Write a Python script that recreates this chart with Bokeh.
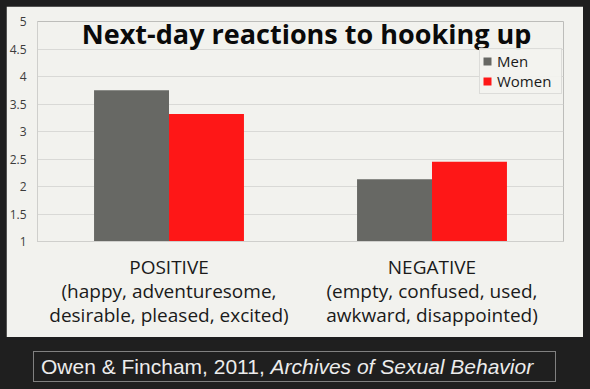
import html
from bokeh.plotting import figure
from bokeh.models import (ColumnDataSource, FactorRange, Range1d, Label, FixedTicker,
                          NumeralTickFormatter, Div)
from bokeh.transform import dodge
from bokeh.layouts import column
from bokeh.embed import file_html
from bokeh.resources import INLINE

# ---- data ----
categories = ["POSITIVE", "NEGATIVE"]
category_details = ["(happy, adventuresome,\ndesirable, pleased, excited)",
                    "(empty, confused, used,\nawkward, disappointed)"]
series = ["Men", "Women"]
men = [3.75, 2.13]
women = [3.32, 2.45]
y_ticks = [1, 1.5, 2, 2.5, 3, 3.5, 4, 4.5, 5]
title_text = "Next-day reactions to hooking up"
citation_plain = "Owen & Fincham, 2011, "
citation_italic = "Archives of Sexual Behavior"

# axis factors: category name plus its description (multi-line)
factors = [c + "\n" + d for c, d in zip(categories, category_details)]

# ---- styles ----
FONT = "Open Sans"
PANEL = "#f2f2ee"
DARK = "#1f1f1f"
MEN_C = "#676864"
WOMEN_C = "#fe1717"
GRID = "#d9d9d6"

src = ColumnDataSource(dict(cat=factors, men=men, women=women))

p = figure(width=577, height=331,
           x_range=FactorRange(factors=factors, range_padding=0),
           y_range=Range1d(1, 5),
           output_backend="svg", toolbar_location=None,
           min_border_left=31, min_border_right=20, min_border_top=15, min_border_bottom=96,
           margin=(6, 7, 0, 6))
p.background_fill_color = PANEL
p.border_fill_color = PANEL
p.outline_line_color = None

p.vbar(x=dodge("cat", -0.1425, range=p.x_range), top="men", width=0.285, source=src,
       fill_color=MEN_C, line_color=None, legend_label=series[0])
p.vbar(x=dodge("cat", 0.1425, range=p.x_range), top="women", width=0.285, source=src,
       fill_color=WOMEN_C, line_color=None, legend_label=series[1])

# title inside the plot area
p.add_layout(Label(x=1.023, y=4.78, text=title_text, text_align="center",
                   text_baseline="middle", text_font=FONT, text_font_style="bold",
                   text_font_size="27px", text_color="#0a0a0a"))

# legend
lg = p.legend[0]
lg.location = (442, 147)
lg.background_fill_color = PANEL
lg.border_line_color = "#c6c6c4"
lg.label_text_font = FONT
lg.label_text_font_size = "15px"
lg.label_text_color = "#1a1a1a"
lg.glyph_width = 10
lg.glyph_height = 10
lg.label_height = 18
lg.label_width = 62
lg.spacing = 0
lg.padding = 2
lg.margin = 0
lg.label_standoff = 5

# x axis
p.xaxis.major_label_text_font = FONT
p.xaxis.major_label_text_font_size = "19px"
p.xaxis.major_label_text_color = "#1a1a1a"
p.xaxis.major_label_text_line_height = 0.93
p.xaxis.major_label_standoff = 6
p.xaxis.major_tick_line_color = None
p.xaxis.axis_line_color = "#cfcfcc"
p.xgrid.grid_line_color = None

# y axis
p.yaxis.ticker = FixedTicker(ticks=y_ticks)
p.yaxis.formatter = NumeralTickFormatter(format="0.[0]")
p.yaxis.major_tick_line_color = None
p.yaxis.minor_tick_line_color = None
p.yaxis.axis_line_color = "#cfcfcc"
p.yaxis.major_label_text_font = FONT
p.yaxis.major_label_text_font_size = "12px"
p.yaxis.major_label_text_color = "#3c3c3c"
p.yaxis.major_label_standoff = 5
p.ygrid.grid_line_color = GRID

cite_html = (
    '<div style="margin-left:33px;margin-top:14px;width:523px;height:31px;'
    'border:1px solid #808080;box-sizing:border-box;color:#ececec;'
    'font-family:\'Liberation Sans\',Arial,sans-serif;font-size:21px;line-height:29px;'
    'padding-left:7px;white-space:nowrap;">'
    + html.escape(citation_plain) + '<i>' + html.escape(citation_italic) + '</i></div>'
)
cite = Div(text=cite_html, width=590, height=52, margin=0,
           styles={"background-color": DARK})

layout = column(p, cite, spacing=0, margin=0, styles={"background-color": DARK})

open("out.html", "w").write(file_html(layout, INLINE))
